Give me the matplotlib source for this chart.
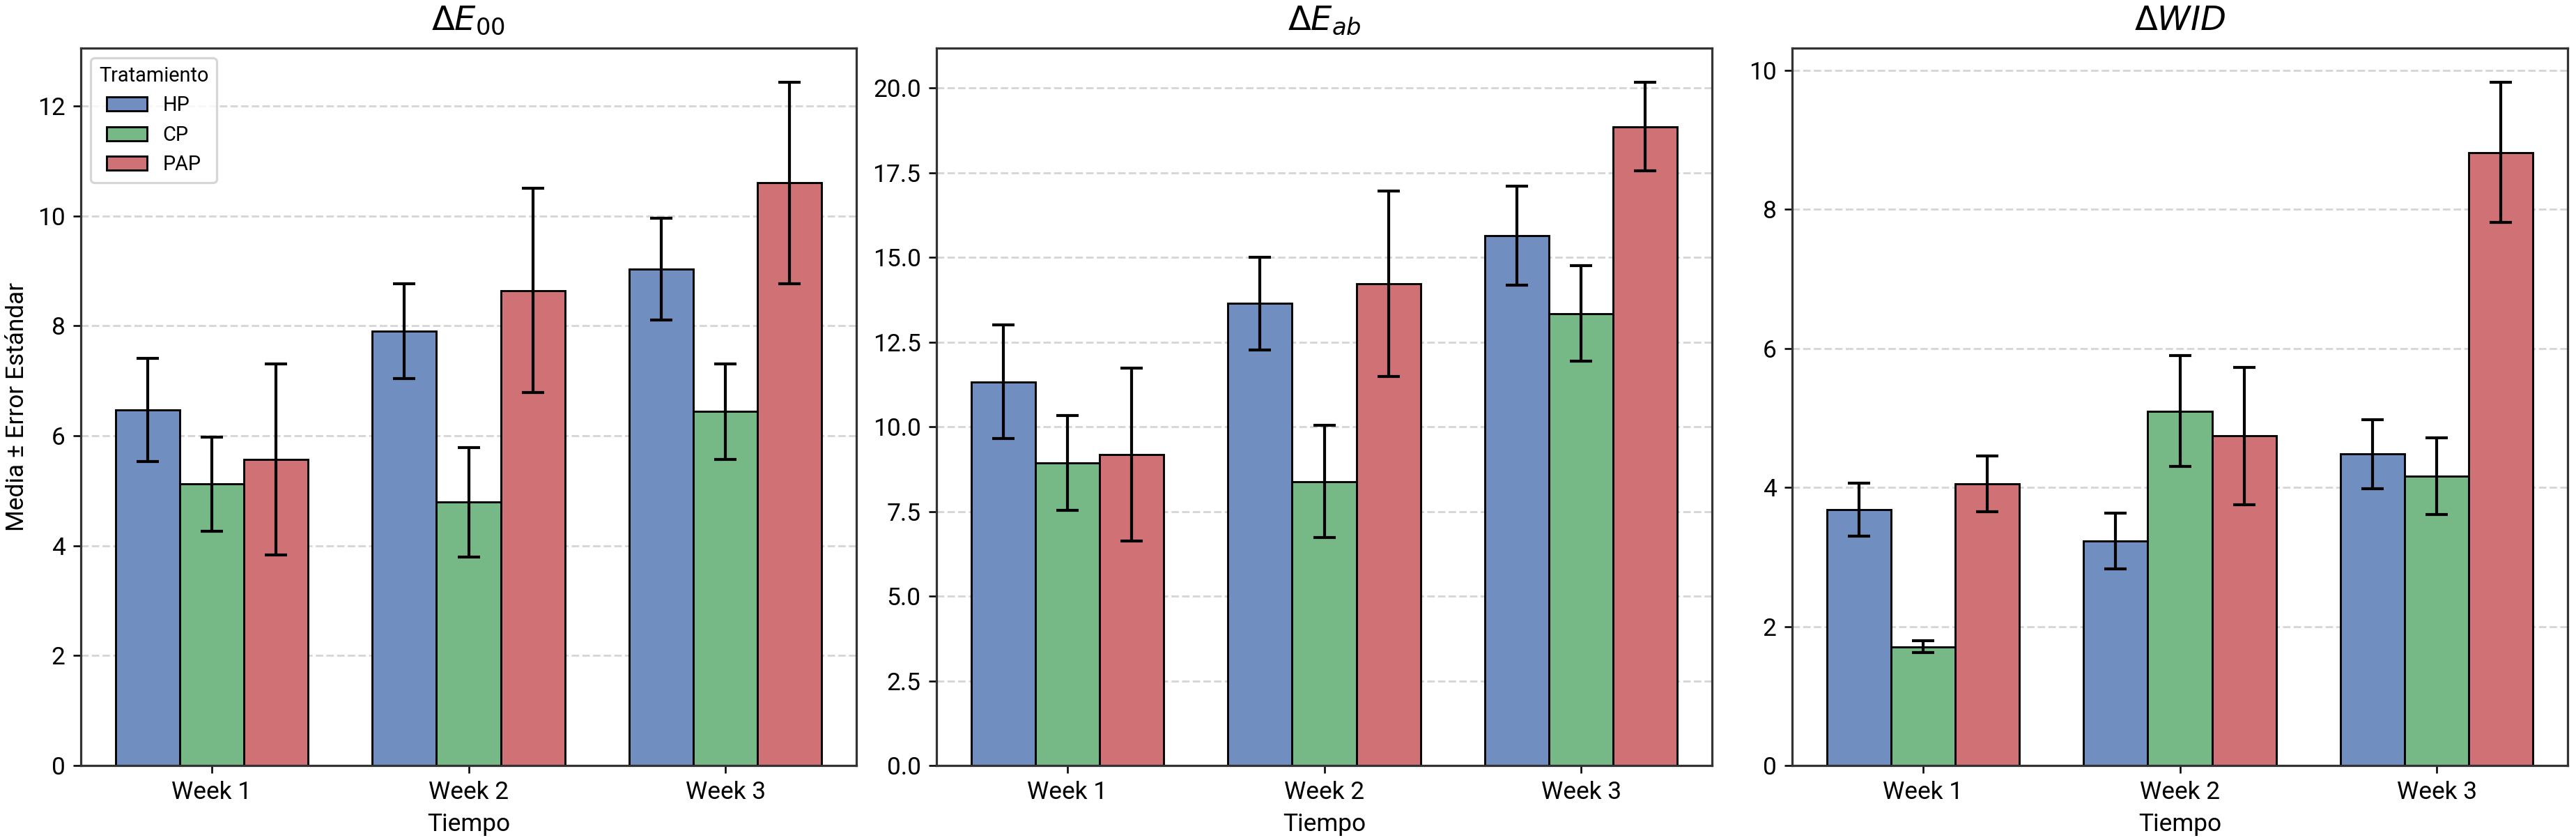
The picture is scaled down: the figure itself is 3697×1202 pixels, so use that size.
import matplotlib
matplotlib.use("Agg")
import matplotlib.pyplot as plt
import numpy as np

plt.rcParams['font.family'] = ['Roboto', 'DejaVu Sans']

weeks = ["Week 1", "Week 2", "Week 3"]
treatments = ["HP", "CP", "PAP"]
colors = ["#708EC0", "#77B986", "#D07175"]

titles = [r"$\Delta E_{00}$", r"$\Delta E_{ab}$", r"$\Delta WID$"]

# mean values per treatment (rows) per week (cols)
de00_mean = [[6.47, 7.90, 9.03],
             [5.12, 4.79, 6.44],
             [5.57, 8.64, 10.60]]
de00_sem = [[0.94, 0.86, 0.93],
            [0.86, 1.00, 0.87],
            [1.74, 1.86, 1.83]]

deab_mean = [[11.33, 13.64, 15.65],
             [8.93, 8.38, 13.34],
             [9.18, 14.22, 18.86]]
deab_sem = [[1.68, 1.37, 1.46],
            [1.40, 1.66, 1.41],
            [2.55, 2.74, 1.31]]

wid_mean = [[3.68, 3.23, 4.48],
            [1.71, 5.10, 4.16],
            [4.05, 4.74, 8.82]]
wid_sem = [[0.38, 0.40, 0.50],
           [0.09, 0.80, 0.55],
           [0.40, 0.99, 1.01]]

means = [de00_mean, deab_mean, wid_mean]
sems = [de00_sem, deab_sem, wid_sem]

W, H = 3697, 1202
dpi = 231
fig = plt.figure(figsize=(W / dpi, H / dpi), dpi=dpi)

lefts = [116, 1344, 2572]
axw = 1113
bottom = 1 - 1098 / H
top = 1 - 69 / H

x = np.arange(len(weeks))
bw = 0.25
for i in range(3):
    ax = fig.add_axes([lefts[i] / W, bottom, axw / W, top - bottom])
    for j, t in enumerate(treatments):
        ax.bar(x + (j - 1) * bw, means[i][j], width=bw, color=colors[j],
               edgecolor="black", linewidth=0.9, label=t, zorder=2,
               yerr=sems[i][j], capsize=5,
               error_kw=dict(ecolor="black", elinewidth=1.3, capthick=1.3, zorder=3))
    ax.set_xticks(x)
    ax.set_xticklabels(weeks, fontsize=11)
    ax.tick_params(axis='y', labelsize=11)
    ax.set_xlim(-0.51, 2.51)
    ax.set_title(titles[i], fontsize=15, pad=8)
    ax.set_xlabel("Tiempo", fontsize=11)
    ax.yaxis.grid(True, linestyle="--", color="#bbbbbb", alpha=0.6, linewidth=0.9, zorder=0)
    ax.set_axisbelow(True)
    for s in ax.spines.values():
        s.set_color("#333333")
        s.set_linewidth(1.0)
    if i == 0:
        ax.set_ylabel("Media ± Error Estándar", fontsize=11)
        leg = ax.legend(title="Tratamiento", loc="upper left", fontsize=9,
                        title_fontsize=9, frameon=True)
        leg.get_frame().set_edgecolor("#cccccc")

fig.savefig("out.png", dpi=dpi)
